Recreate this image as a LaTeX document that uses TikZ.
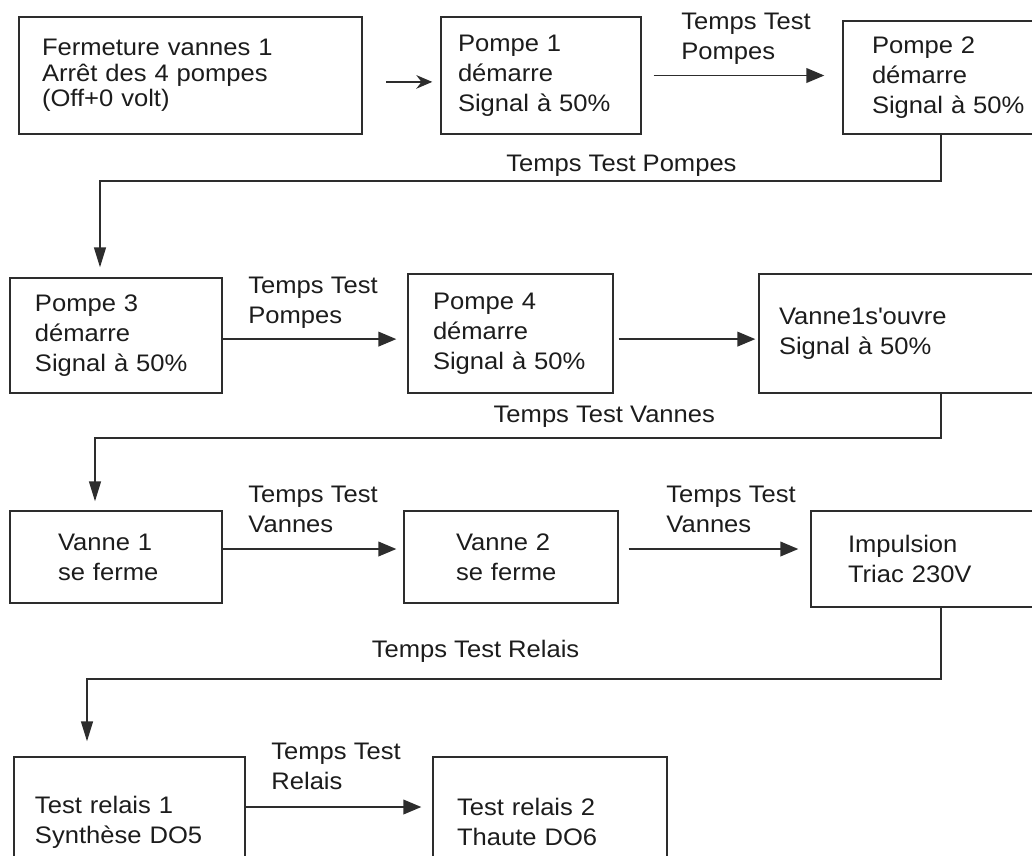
\documentclass[tikz,border=0pt]{standalone}
\usepackage{fontspec}
\setmainfont{Liberation Sans}[FakeStretch=1.07]
\usepackage{tikz}
\usetikzlibrary{arrows.meta}
\definecolor{traitgris}{RGB}{45,45,45}
\definecolor{textenoir}{RGB}{28,28,28}

\begin{document}
\begin{tikzpicture}[
  font=\fontsize{17}{21.3}\selectfont,
  text=textenoir,
  % ── step boxes ───────────────────────────────────────────
  etape/.style={
    rectangle, draw=traitgris, line width=1pt,
    align=left, inner ysep=0pt
  },
  % ── connectors ───────────────────────────────────────────
  fleche/.style={line width=1pt, draw=traitgris,
    -{Triangle[length=0.45cm,width=0.37cm]}},
  retour/.style={line width=1pt, draw=traitgris,
    -{Triangle[length=0.5cm,width=0.3cm]}},
  % ── labels ───────────────────────────────────────────────
  lbl/.style={align=left, anchor=south west,
    inner sep=0pt, text depth=0pt},
  lblr/.style={anchor=south, inner sep=0pt, text depth=0pt},
]
\useasboundingbox (0,0) rectangle (25.8,-21.375);

%% ── ROW 1 : PUMPS 1-2 ───────────────────────────────────────
\node[etape, line width=1.5pt, font=\fontsize{17}{18.2}\selectfont,
      text width=7.425cm, inner xsep=0.575cm, minimum height=2.925cm]
  (B1) at (4.7625,-1.8875)
  {Fermeture vannes 1\\Arrêt des 4 pompes\\(Off+0 volt)};
\node[etape, text width=4.15cm, inner xsep=0.425cm, minimum height=2.925cm]
  (P1) at (13.525,-1.8875) {Pompe 1\\démarre\\Signal à 50\%};
\node[etape, text width=4.0cm, inner xsep=0.725cm, minimum height=2.825cm]
  (P2) at (23.8,-1.9375) {Pompe 2\\démarre\\Signal à 50\%};

%% ── ROW 2 : PUMPS 3-4, VALVE OPENS ──────────────────────────
\node[etape, text width=4.05cm, inner xsep=0.625cm, minimum height=2.875cm]
  (P3) at (2.9,-8.3875) {Pompe 3\\démarre\\Signal à 50\%};
\node[etape, text width=3.875cm, inner xsep=0.625cm, minimum height=2.975cm]
  (P4) at (12.7625,-8.3375) {Pompe 4\\démarre\\Signal à 50\%};
\node[etape, text width=6.5cm, inner xsep=0.5cm, minimum height=2.975cm]
  (V1o) at (22.725,-8.3375) {Vanne1s\textquotesingle ouvre\\Signal à 50\%};

%% ── ROW 3 : VALVES CLOSE, TRIAC ─────────────────────────────
\node[etape, text width=2.9cm, inner xsep=1.2cm, minimum height=2.3cm]
  (V1) at (2.9,-13.925) {Vanne 1\\se ferme};
\node[etape, text width=2.75cm, inner xsep=1.3cm, minimum height=2.3cm]
  (V2) at (12.775,-13.925) {Vanne 2\\se ferme};
\node[etape, text width=4.65cm, inner xsep=0.925cm, minimum height=2.4cm]
  (IMP) at (23.525,-13.975) {Impulsion\\Triac 230V};

%% ── ROW 4 : RELAYS ──────────────────────────────────────────
\node[etape, text width=4.725cm, inner xsep=0.525cm, minimum height=3.25cm]
  (TR1) at (3.2375,-20.55) {Test relais 1\\Synthèse DO5};
\node[etape, text width=4.65cm, inner xsep=0.6cm, minimum height=3.25cm]
  (TR2) at (13.75,-20.55) {Test relais 2\\Thaute DO6};

%% ── HORIZONTAL ARROWS ───────────────────────────────────────
\draw[line width=1pt, draw=traitgris,
      -{Stealth[length=0.4cm,width=0.34cm]},
      shorten <=0.575cm, shorten >=0.2cm]
  ([yshift=-0.16cm]B1.east) -- ([yshift=-0.16cm]B1.east -| P1.west);
\draw[fleche, shorten <=0.3cm, shorten >=0.45cm]
  (P1.east) -- (P1.east -| P2.west)
  node[lbl, at start, xshift=0.975cm, yshift=0.375cm]{Temps Test\\Pompes};
\draw[fleche, shorten >=0.275cm]
  ([yshift=-0.09cm]P3.east) -- ([yshift=-0.09cm]P3.east -| P4.west)
  node[lbl, at start, xshift=0.625cm, yshift=0.375cm]{Temps Test\\Pompes};
\draw[fleche, shorten <=0.125cm, shorten >=0.075cm]
  ([yshift=-0.14cm]P4.east) -- ([yshift=-0.14cm]P4.east -| V1o.west);
\draw[fleche, shorten >=0.175cm]
  ([yshift=0.2cm]V1.east) -- ([yshift=0.2cm]V1.east -| V2.west)
  node[lbl, at start, xshift=0.625cm, yshift=0.4cm]{Temps Test\\Vannes};
\draw[fleche, shorten <=0.25cm, shorten >=0.3cm]
  ([yshift=0.2cm]V2.east) -- ([yshift=0.2cm]V2.east -| IMP.west)
  node[lbl, at start, xshift=1.175cm, yshift=0.4cm]{Temps Test\\Vannes};
\draw[fleche, shorten >=0.275cm]
  ([yshift=0.375cm]TR1.east) -- ([yshift=0.375cm]TR1.east -| TR2.west)
  node[lbl, at start, xshift=0.625cm, yshift=0.425cm]{Temps Test\\Relais};

%% ── RETURN LINES (end of row -> next row) ───────────────────
\coordinate (r1) at (23.525,-4.525);
\coordinate (l1) at (2.5,-4.525);
\draw[retour, shorten >=0.25cm]
  (r1 |- P2.south) -- (r1)
  -- node[lblr, pos=0.38, yshift=0.225cm]{Temps Test Pompes} (l1)
  -- (l1 |- P3.north);

\coordinate (r2) at (23.525,-10.95);
\coordinate (l2) at (2.375,-10.95);
\draw[retour, shorten >=0.225cm]
  (r2 |- V1o.south) -- (r2)
  -- node[lblr, pos=0.398, yshift=0.375cm]{Temps Test Vannes} (l2)
  -- (l2 |- V1.north);

\coordinate (r3) at (23.525,-16.975);
\coordinate (l3) at (2.175,-16.975);
\draw[retour, shorten >=0.375cm]
  (r3 |- IMP.south) -- (r3)
  -- node[lblr, pos=0.545, yshift=0.525cm]{Temps Test Relais} (l3)
  -- (l3 |- TR1.north);

\end{tikzpicture}
\end{document}
